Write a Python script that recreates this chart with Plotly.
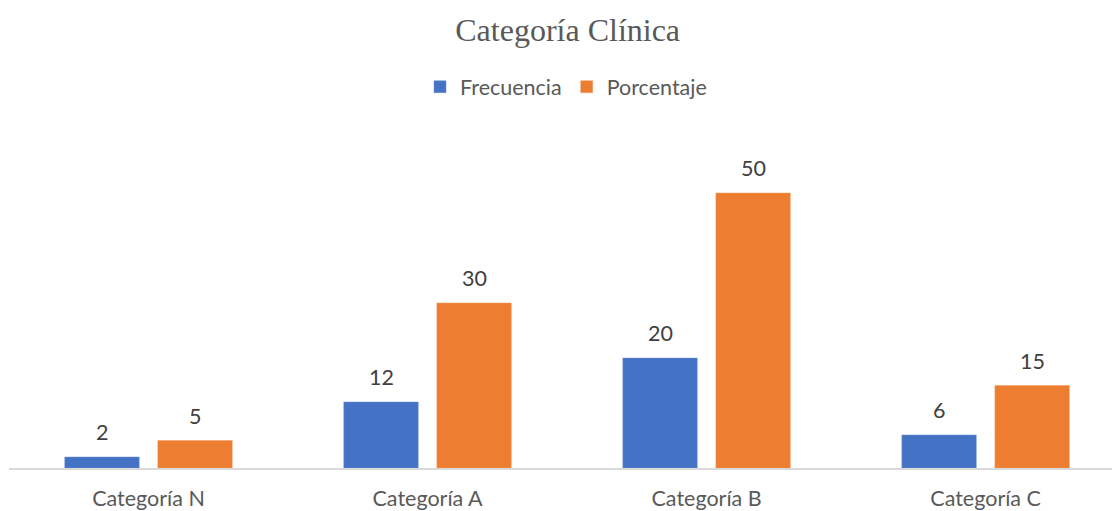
import plotly.graph_objects as go

categories = ["Categoría N", "Categoría A", "Categoría B", "Categoría C"]
frecuencia = [2, 12, 20, 6]
porcentaje = [5, 30, 50, 15]

txt = "#595959"
fnt = "Lato, Carlito, 'Open Sans', sans-serif"
fs = 21.5

fig = go.Figure()
fig.add_trace(go.Bar(x=categories, y=frecuencia, name="Frecuencia",
                     marker=dict(color="#4472C4", line=dict(color="#6f93d4", width=0.5))))
fig.add_trace(go.Bar(x=categories, y=porcentaje, name="Porcentaje",
                     marker=dict(color="#ED7D31", line=dict(color="#f29a5e", width=0.5))))

for vals, xs in ((frecuencia, -46.5), (porcentaje, 46.5)):
    for c, v in zip(categories, vals):
        fig.add_annotation(x=c, y=v, xref="x", yref="y", text=str(v), showarrow=False,
                           xshift=xs, yshift=25, yanchor="middle",
                           font=dict(family=fnt, size=fs, color="#404040"))

fig.update_layout(
    width=1112, height=511,
    paper_bgcolor="white", plot_bgcolor="white",
    margin=dict(l=9, r=0, t=110, b=43),
    barmode="group", bargap=0.333, bargroupgap=0.2,
    title=dict(text="Categoría Clínica", x=0.5065, xanchor="center", y=0.942, yanchor="middle",
               xref="paper",
               font=dict(family="'Liberation Serif', 'Times New Roman', serif", size=32, color=txt)),
    legend=dict(orientation="h", x=0.505, xanchor="center", y=1.065, yanchor="middle",
                font=dict(family=fnt, size=fs, color=txt), itemwidth=30, traceorder="normal",
                bgcolor="rgba(0,0,0,0)"),
    showlegend=True,
    font=dict(family=fnt, color=txt),
)
fig.update_xaxes(showline=True, linecolor="#D9D9D9", linewidth=1.5, ticks="", showgrid=False,
                 range=[-0.5, 3.453], ticklabelstandoff=10, automargin=False,
                 tickfont=dict(family=fnt, size=fs, color=txt))
fig.update_yaxes(visible=False, range=[0, 65.1], showgrid=False, zeroline=False)

fig.write_html("out.html", config={"displayModeBar": False},
               post_script="document.body.style.margin='0';")
